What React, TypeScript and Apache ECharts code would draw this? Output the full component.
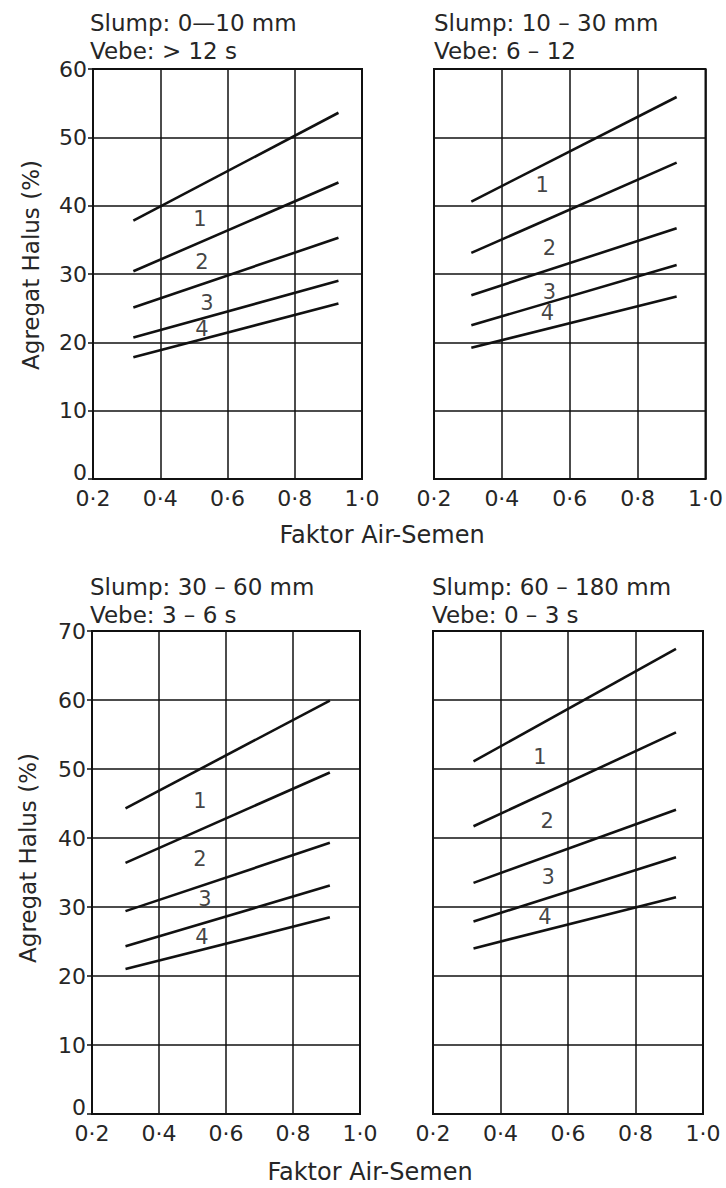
import React, { useEffect, useRef } from "react";
import * as echarts from "echarts";

// ---- data ----
const curveLabels = ["1", "2", "3", "4"];
const xAxisName = "Faktor Air-Semen";
const yAxisName = "Agregat Halus (%)";

const slumpTitles = ["Slump: 0—10 mm", "Slump: 10 – 30 mm", "Slump: 30 – 60 mm", "Slump: 60 – 180 mm"];
const vebeTitles = ["Vebe: > 12 s", "Vebe: 6 – 12", "Vebe: 3 – 6 s", "Vebe: 0 – 3 s"];
const yMaxes = [60, 60, 70, 70];

// panel 1 : slump 0-10
const p1X = [0.32, 0.93];
const p1Start = [37.8, 30.4, 25.1, 20.7, 17.8];
const p1End = [53.6, 43.4, 35.3, 29.0, 25.7];
const p1Labels = [[0.518, 38.1], [0.524, 31.7], [0.539, 25.8], [0.524, 21.9]];

// panel 2 : slump 10-30
const p2X = [0.31, 0.915];
const p2Start = [40.6, 33.1, 26.9, 22.5, 19.2];
const p2End = [55.9, 46.3, 36.7, 31.3, 26.7];
const p2Labels = [[0.519, 43.0], [0.54, 33.8], [0.54, 27.4], [0.534, 24.3]];

// panel 3 : slump 30-60
const p3X = [0.3, 0.91];
const p3Start = [44.3, 36.4, 29.4, 24.3, 21.0];
const p3End = [59.9, 49.5, 39.3, 33.1, 28.5];
const p3Labels = [[0.522, 45.4], [0.522, 37.0], [0.537, 31.2], [0.528, 25.6]];

// panel 4 : slump 60-180
const p4X = [0.32, 0.92];
const p4Start = [51.1, 41.7, 33.5, 27.9, 24.0];
const p4End = [67.4, 55.3, 44.1, 37.2, 31.4];
const p4Labels = [[0.517, 51.8], [0.538, 42.4], [0.541, 34.3], [0.532, 28.6]];

const panels = [
  { x: p1X, start: p1Start, end: p1End, labels: p1Labels },
  { x: p2X, start: p2Start, end: p2End, labels: p2Labels },
  { x: p3X, start: p3Start, end: p3End, labels: p3Labels },
  { x: p4X, start: p4Start, end: p4End, labels: p4Labels },
];

// ---- layout / style ----
const FONT = "DejaVu Sans";
const TEXT = "#262626";
const INK = "#111";

const grids = [
  { left: 93, top: 69, width: 269, height: 410 },
  { left: 434, top: 69, width: 273, height: 410 },
  { left: 92, top: 631, width: 268, height: 483 },
  { left: 433, top: 631, width: 270, height: 483 },
];
const titlePos = [
  { left: 90, top: 9 },
  { left: 434, top: 9 },
  { left: 90, top: 573 },
  { left: 432, top: 573 },
];

export default function App() {
  const ref = useRef<HTMLDivElement>(null);
  useEffect(() => {
    if (!ref.current) return;
    const chart = echarts.init(ref.current, undefined, { renderer: "svg" });

    const fmtX = (v: number) => v.toFixed(1).replace(".", "·");
    const fmtY = (v: number) => (v === 0 ? "{z|0}" : String(v));

    const series: any[] = [];
    panels.forEach((p, i) => {
      p.start.forEach((s, j) => {
        series.push({
          type: "line",
          xAxisIndex: i,
          yAxisIndex: i,
          data: [
            [p.x[0], s],
            [p.x[1], p.end[j]],
          ],
          showSymbol: false,
          symbol: "none",
          lineStyle: { color: INK, width: 2.6 },
          silent: true,
        });
      });
      series.push({
        type: "scatter",
        xAxisIndex: i,
        yAxisIndex: i,
        symbolSize: 0,
        data: p.labels.map((l, k) => ({ value: l, name: curveLabels[k] })),
        label: {
          show: true,
          position: "inside",
          formatter: (d: any) => d.name,
          fontFamily: FONT,
          fontSize: 21,
          color: INK,
        },
        silent: true,
      });
    });

    const option: any = {
      animation: false,
      backgroundColor: "#fff",
      title: slumpTitles.map((t, i) => ({
        text: t + "\n" + vebeTitles[i],
        left: titlePos[i].left,
        top: titlePos[i].top,
        padding: 0,
        textStyle: {
          fontFamily: FONT,
          fontSize: 23,
          fontWeight: "normal",
          color: TEXT,
          lineHeight: 28,
        },
      })),
      grid: grids.map((g) => ({
        ...g,
        show: true,
        borderColor: INK,
        borderWidth: 2,
        backgroundColor: "transparent",
      })),
      xAxis: grids.map((_, i) => ({
        type: "value",
        gridIndex: i,
        min: 0.2,
        max: 1.0,
        interval: 0.2,
        axisLine: { show: true, lineStyle: { color: INK, width: 2 } },
        axisTick: { show: false },
        splitLine: { show: true, lineStyle: { color: INK, width: 1.5 } },
        axisLabel: {
          formatter: fmtX,
          fontFamily: FONT,
          fontSize: 22,
          color: TEXT,
          margin: 8,
          showMinLabel: true,
          showMaxLabel: true,
        },
      })),
      yAxis: grids.map((_, i) => ({
        type: "value",
        gridIndex: i,
        min: 0,
        max: yMaxes[i],
        interval: 10,
        axisLine: { show: true, lineStyle: { color: INK, width: 2 } },
        axisTick: { show: i % 2 === 0, length: 5, lineStyle: { color: INK, width: 1.5 } },
        splitLine: { show: true, lineStyle: { color: INK, width: 1.5 } },
        axisLabel: {
          show: i % 2 === 0,
          formatter: fmtY,
          fontFamily: FONT,
          fontSize: 22,
          color: TEXT,
          margin: 6,
          rich: {
            z: {
              fontFamily: FONT,
              fontSize: 22,
              color: TEXT,
              padding: [0, 0, 14, 0],
            },
          },
        },
      })),
      graphic: [
        {
          type: "text",
          x: 382,
          y: 535,
          style: {
            text: xAxisName,
            fontFamily: FONT,
            fontSize: 24,
            fill: TEXT,
            textAlign: "center",
            textVerticalAlign: "middle",
          },
        },
        {
          type: "text",
          x: 370,
          y: 1172,
          style: {
            text: xAxisName,
            fontFamily: FONT,
            fontSize: 24,
            fill: TEXT,
            textAlign: "center",
            textVerticalAlign: "middle",
          },
        },
        {
          type: "text",
          x: 31,
          y: 265,
          rotation: Math.PI / 2,
          style: {
            text: yAxisName,
            fontFamily: FONT,
            fontSize: 23,
            fill: TEXT,
            textAlign: "center",
            textVerticalAlign: "middle",
          },
        },
        {
          type: "text",
          x: 28,
          y: 858,
          rotation: Math.PI / 2,
          style: {
            text: yAxisName,
            fontFamily: FONT,
            fontSize: 23,
            fill: TEXT,
            textAlign: "center",
            textVerticalAlign: "middle",
          },
        },
      ],
      series,
    };
    chart.setOption(option);
    return () => chart.dispose();
  }, []);

  return (
    <div
      ref={ref}
      style={{ position: "absolute", left: 0, top: 0, width: 726, height: 1188, background: "#fff" }}
    />
  );
}
